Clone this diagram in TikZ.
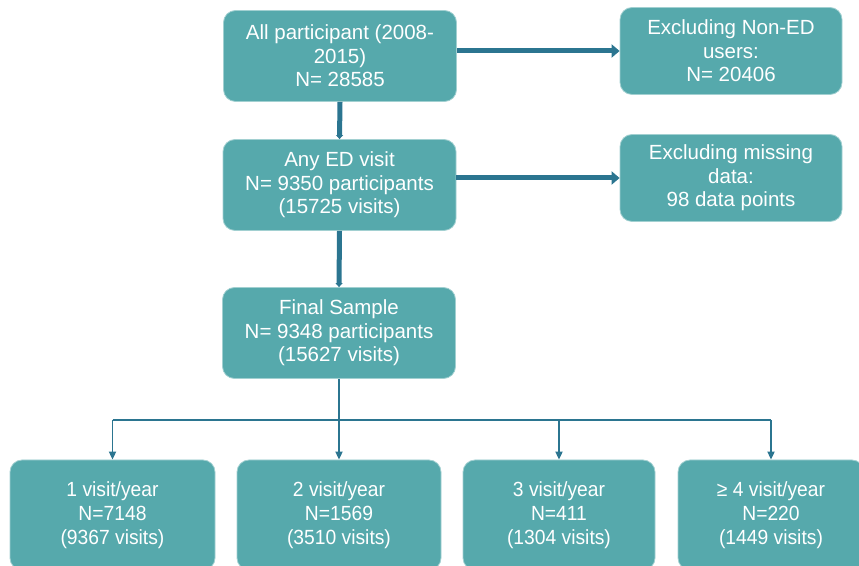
\documentclass[tikz,border=0pt]{standalone}
\usepackage{fontspec}
\setmainfont{Liberation Sans}
\newfontfamily\narrowfont[FakeStretch=0.94]{Liberation Sans}
\usetikzlibrary{arrows.meta}
\definecolor{boxteal}{HTML}{56A9AC}
\definecolor{arrowteal}{HTML}{2B7590}

\begin{document}
\begin{tikzpicture}[x=1pt, y=1pt,
    flowbox/.style={fill=boxteal, draw=boxteal!55!white, line width=0.8pt,
        rounded corners=12pt, text=white, align=center, inner sep=0pt,
        font=\fontsize{20.5}{23.5}\selectfont},
    mainbox/.style={flowbox, minimum width=233, minimum height=91},
    sidebox/.style={flowbox, minimum width=222, minimum height=87},
    groupbox/.style={flowbox, minimum height=110,
        font=\narrowfont\fontsize{20.5}{24}\selectfont},
    bigarrow/.style={arrowteal, line width=5pt, -{Triangle[width=13pt,length=8pt]}},
    downarrow/.style={arrowteal, line width=5pt, -{Triangle[width=7pt,length=4pt]}},
    treeline/.style={arrowteal, line width=1.8pt},
    thinarrow/.style={treeline, -{Triangle[width=7pt,length=8pt]}}]

    % --- 画布 ---
    \useasboundingbox (0,0) rectangle (859,565);

    % --- 主流程 ---
    \node[mainbox] (all)   at (340, 509)   {All participant (2008-\\2015)\\N= 28585};
    \node[mainbox] (anyed) at (339.5, 380) {Any ED visit\\N= 9350 participants\\(15725 visits)};
    \node[mainbox] (final) at (339, 232)   {Final Sample\\N= 9348 participants\\(15627 visits)};

    % --- 排除 ---
    \node[sidebox] (nonED)   at (731, 514) {Excluding Non-ED\\users:\\N= 20406};
    \node[sidebox] (missing) at (731, 387) {Excluding missing\\data:\\98 data points};

    % --- 分组 ---
    \node[groupbox, minimum width=205] (g1) at (112.5, 50) {1 visit/year\\N=7148\\(9367 visits)};
    \node[groupbox, minimum width=204] (g2) at (339, 50)   {2 visit/year\\N=1569\\(3510 visits)};
    \node[groupbox, minimum width=192] (g3) at (559, 50)   {3 visit/year\\N=411\\(1304 visits)};
    \node[groupbox, minimum width=186] (g4) at (771, 50)   {≥ 4 visit/year\\N=220\\(1449 visits)};

    % --- 箭头 ---
    \draw[downarrow] (all.south) -- (anyed.north);
    \draw[downarrow] (anyed.south) -- (final.north);
    \draw[bigarrow] (all.east |- nonED) -- (nonED.west);
    \draw[bigarrow] (anyed.east |- missing) -- (missing.west);

    % 分支
    \coordinate (split) at ([yshift=-41pt]final.south);
    \draw[treeline] (final.south) -- (split);
    \draw[treeline] (split -| g1) -- (split -| g4);
    \foreach \i in {1,...,4}
        \draw[thinarrow] (split -| g\i) -- (g\i.north);

\end{tikzpicture}
\end{document}
